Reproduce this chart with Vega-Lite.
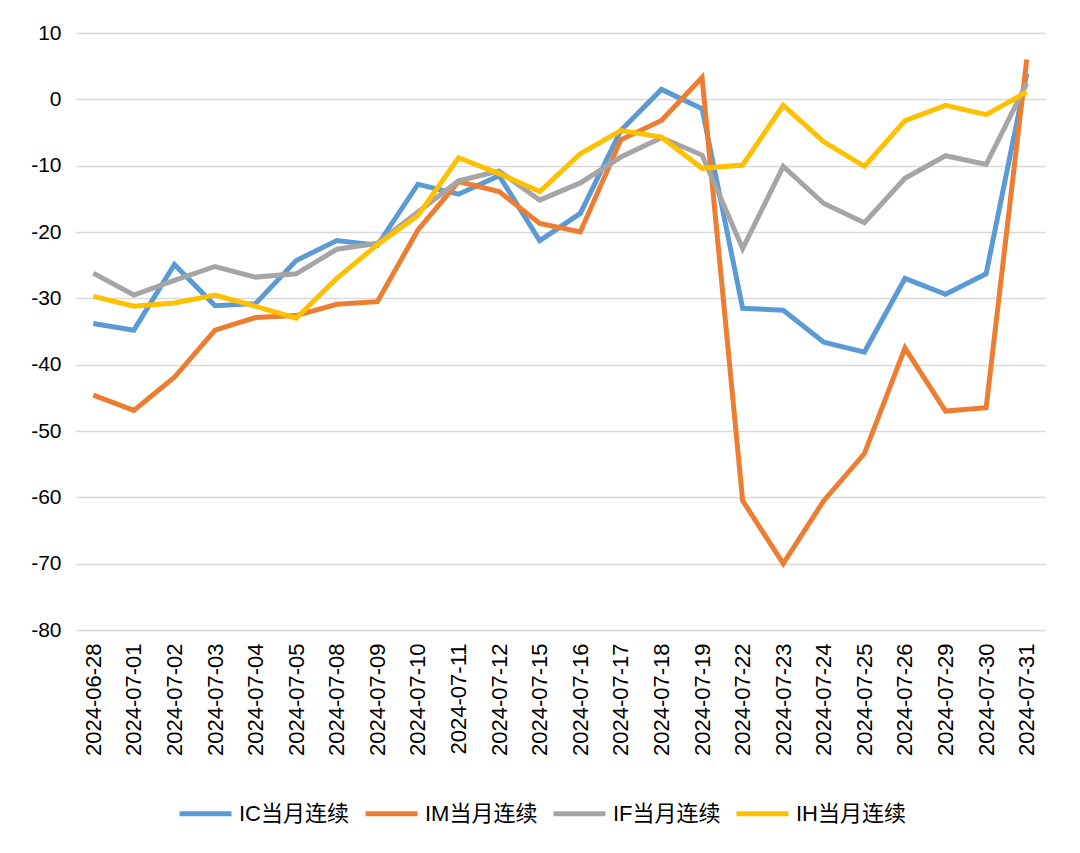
{
  "$schema": "https://vega.github.io/schema/vega-lite/v6.json",
  "width": 970,
  "height": 597,
  "autosize": "none",
  "padding": {"left": 75, "top": 33, "right": 35, "bottom": 223},
  "background": "white",
  "config": {
    "view": {"stroke": null},
    "font": "Liberation Sans, Noto Sans CJK SC, sans-serif"
  },
  "data": {
    "values": [
      {"date": "2024-06-28", "s": "IC当月连续", "v": -33.8},
      {"date": "2024-07-01", "s": "IC当月连续", "v": -34.8},
      {"date": "2024-07-02", "s": "IC当月连续", "v": -24.9},
      {"date": "2024-07-03", "s": "IC当月连续", "v": -31.1},
      {"date": "2024-07-04", "s": "IC当月连续", "v": -30.8},
      {"date": "2024-07-05", "s": "IC当月连续", "v": -24.3},
      {"date": "2024-07-08", "s": "IC当月连续", "v": -21.3},
      {"date": "2024-07-09", "s": "IC当月连续", "v": -22.0},
      {"date": "2024-07-10", "s": "IC当月连续", "v": -12.8},
      {"date": "2024-07-11", "s": "IC当月连续", "v": -14.3},
      {"date": "2024-07-12", "s": "IC当月连续", "v": -11.5},
      {"date": "2024-07-15", "s": "IC当月连续", "v": -21.3},
      {"date": "2024-07-16", "s": "IC当月连续", "v": -17.2},
      {"date": "2024-07-17", "s": "IC当月连续", "v": -4.7},
      {"date": "2024-07-18", "s": "IC当月连续", "v": 1.5},
      {"date": "2024-07-19", "s": "IC当月连续", "v": -1.4},
      {"date": "2024-07-22", "s": "IC当月连续", "v": -31.5},
      {"date": "2024-07-23", "s": "IC当月连续", "v": -31.8},
      {"date": "2024-07-24", "s": "IC当月连续", "v": -36.6},
      {"date": "2024-07-25", "s": "IC当月连续", "v": -38.1},
      {"date": "2024-07-26", "s": "IC当月连续", "v": -27.0},
      {"date": "2024-07-29", "s": "IC当月连续", "v": -29.4},
      {"date": "2024-07-30", "s": "IC当月连续", "v": -26.3},
      {"date": "2024-07-31", "s": "IC当月连续", "v": 3.9},
      {"date": "2024-06-28", "s": "IM当月连续", "v": -44.6},
      {"date": "2024-07-01", "s": "IM当月连续", "v": -46.9},
      {"date": "2024-07-02", "s": "IM当月连续", "v": -41.9},
      {"date": "2024-07-03", "s": "IM当月连续", "v": -34.8},
      {"date": "2024-07-04", "s": "IM当月连续", "v": -32.9},
      {"date": "2024-07-05", "s": "IM当月连续", "v": -32.6},
      {"date": "2024-07-08", "s": "IM当月连续", "v": -30.9},
      {"date": "2024-07-09", "s": "IM当月连续", "v": -30.5},
      {"date": "2024-07-10", "s": "IM当月连续", "v": -19.7},
      {"date": "2024-07-11", "s": "IM当月连续", "v": -12.4},
      {"date": "2024-07-12", "s": "IM当月连续", "v": -13.9},
      {"date": "2024-07-15", "s": "IM当月连续", "v": -18.7},
      {"date": "2024-07-16", "s": "IM当月连续", "v": -20.0},
      {"date": "2024-07-17", "s": "IM当月连续", "v": -6.1},
      {"date": "2024-07-18", "s": "IM当月连续", "v": -3.2},
      {"date": "2024-07-19", "s": "IM当月连续", "v": 3.3},
      {"date": "2024-07-22", "s": "IM当月连续", "v": -60.5},
      {"date": "2024-07-23", "s": "IM当月连续", "v": -70.0},
      {"date": "2024-07-24", "s": "IM当月连续", "v": -60.5},
      {"date": "2024-07-25", "s": "IM当月连续", "v": -53.4},
      {"date": "2024-07-26", "s": "IM当月连续", "v": -37.5},
      {"date": "2024-07-29", "s": "IM当月连续", "v": -47.0},
      {"date": "2024-07-30", "s": "IM当月连续", "v": -46.5},
      {"date": "2024-07-31", "s": "IM当月连续", "v": 6.0},
      {"date": "2024-06-28", "s": "IF当月连续", "v": -26.2},
      {"date": "2024-07-01", "s": "IF当月连续", "v": -29.5},
      {"date": "2024-07-02", "s": "IF当月连续", "v": -27.3},
      {"date": "2024-07-03", "s": "IF当月连续", "v": -25.2},
      {"date": "2024-07-04", "s": "IF当月连续", "v": -26.8},
      {"date": "2024-07-05", "s": "IF当月连续", "v": -26.3},
      {"date": "2024-07-08", "s": "IF当月连续", "v": -22.6},
      {"date": "2024-07-09", "s": "IF当月连续", "v": -21.7},
      {"date": "2024-07-10", "s": "IF当月连续", "v": -17.0},
      {"date": "2024-07-11", "s": "IF当月连续", "v": -12.3},
      {"date": "2024-07-12", "s": "IF当月连续", "v": -10.8},
      {"date": "2024-07-15", "s": "IF当月连续", "v": -15.2},
      {"date": "2024-07-16", "s": "IF当月连续", "v": -12.6},
      {"date": "2024-07-17", "s": "IF当月连续", "v": -8.7},
      {"date": "2024-07-18", "s": "IF当月连续", "v": -5.8},
      {"date": "2024-07-19", "s": "IF当月连续", "v": -8.4},
      {"date": "2024-07-22", "s": "IF当月连续", "v": -22.5},
      {"date": "2024-07-23", "s": "IF当月连续", "v": -10.1},
      {"date": "2024-07-24", "s": "IF当月连续", "v": -15.7},
      {"date": "2024-07-25", "s": "IF当月连续", "v": -18.6},
      {"date": "2024-07-26", "s": "IF当月连续", "v": -11.9},
      {"date": "2024-07-29", "s": "IF当月连续", "v": -8.5},
      {"date": "2024-07-30", "s": "IF当月连续", "v": -9.8},
      {"date": "2024-07-31", "s": "IF当月连续", "v": 2.4},
      {"date": "2024-06-28", "s": "IH当月连续", "v": -29.7},
      {"date": "2024-07-01", "s": "IH当月连续", "v": -31.2},
      {"date": "2024-07-02", "s": "IH当月连续", "v": -30.7},
      {"date": "2024-07-03", "s": "IH当月连续", "v": -29.5},
      {"date": "2024-07-04", "s": "IH当月连续", "v": -31.2},
      {"date": "2024-07-05", "s": "IH当月连续", "v": -33.0},
      {"date": "2024-07-08", "s": "IH当月连续", "v": -27.0},
      {"date": "2024-07-09", "s": "IH当月连续", "v": -21.9},
      {"date": "2024-07-10", "s": "IH当月连续", "v": -17.5},
      {"date": "2024-07-11", "s": "IH当月连续", "v": -8.8},
      {"date": "2024-07-12", "s": "IH当月连续", "v": -11.2},
      {"date": "2024-07-15", "s": "IH当月连续", "v": -13.9},
      {"date": "2024-07-16", "s": "IH当月连续", "v": -8.2},
      {"date": "2024-07-17", "s": "IH当月连续", "v": -4.7},
      {"date": "2024-07-18", "s": "IH当月连续", "v": -5.7},
      {"date": "2024-07-19", "s": "IH当月连续", "v": -10.4},
      {"date": "2024-07-22", "s": "IH当月连续", "v": -9.9},
      {"date": "2024-07-23", "s": "IH当月连续", "v": -0.9},
      {"date": "2024-07-24", "s": "IH当月连续", "v": -6.4},
      {"date": "2024-07-25", "s": "IH当月连续", "v": -10.1},
      {"date": "2024-07-26", "s": "IH当月连续", "v": -3.2},
      {"date": "2024-07-29", "s": "IH当月连续", "v": -0.9},
      {"date": "2024-07-30", "s": "IH当月连续", "v": -2.3},
      {"date": "2024-07-31", "s": "IH当月连续", "v": 1.1}
    ]
  },
  "mark": {"type": "line", "strokeWidth": 5, "strokeJoin": "miter"},
  "encoding": {
    "x": {
      "field": "date",
      "type": "ordinal",
      "scale": {"type": "point", "padding": 0.45},
      "axis": {
        "title": null,
        "labelAngle": -90,
        "labelFontSize": 22,
        "labelColor": "#000000",
        "labelPadding": 13,
        "ticks": false,
        "domain": false,
        "grid": false
      }
    },
    "y": {
      "field": "v",
      "type": "quantitative",
      "scale": {"domain": [-80, 10], "nice": false},
      "axis": {
        "title": null,
        "values": [-80, -70, -60, -50, -40, -30, -20, -10, 0, 10],
        "labelExpr": "toString(datum.value)",
        "labelFontSize": 21,
        "labelColor": "#000000",
        "labelPadding": 14,
        "ticks": false,
        "domain": false,
        "gridColor": "#d9d9d9",
        "gridWidth": 1.5
      }
    },
    "color": {
      "field": "s",
      "type": "nominal",
      "sort": ["IC当月连续", "IM当月连续", "IF当月连续", "IH当月连续"],
      "scale": {
        "domain": ["IC当月连续", "IM当月连续", "IF当月连续", "IH当月连续"],
        "range": ["#5B9BD5", "#ED7D31", "#A5A5A5", "#FFC000"]
      },
      "legend": {
        "title": null,
        "orient": "none",
        "legendX": 102,
        "legendY": 752,
        "direction": "horizontal",
        "symbolType": "stroke",
        "symbolSize": 2704,
        "symbolStrokeWidth": 5,
        "labelFontSize": 22,
        "labelColor": "#000000",
        "columnPadding": 5,
        "labelOffset": 5
      }
    }
  }
}
